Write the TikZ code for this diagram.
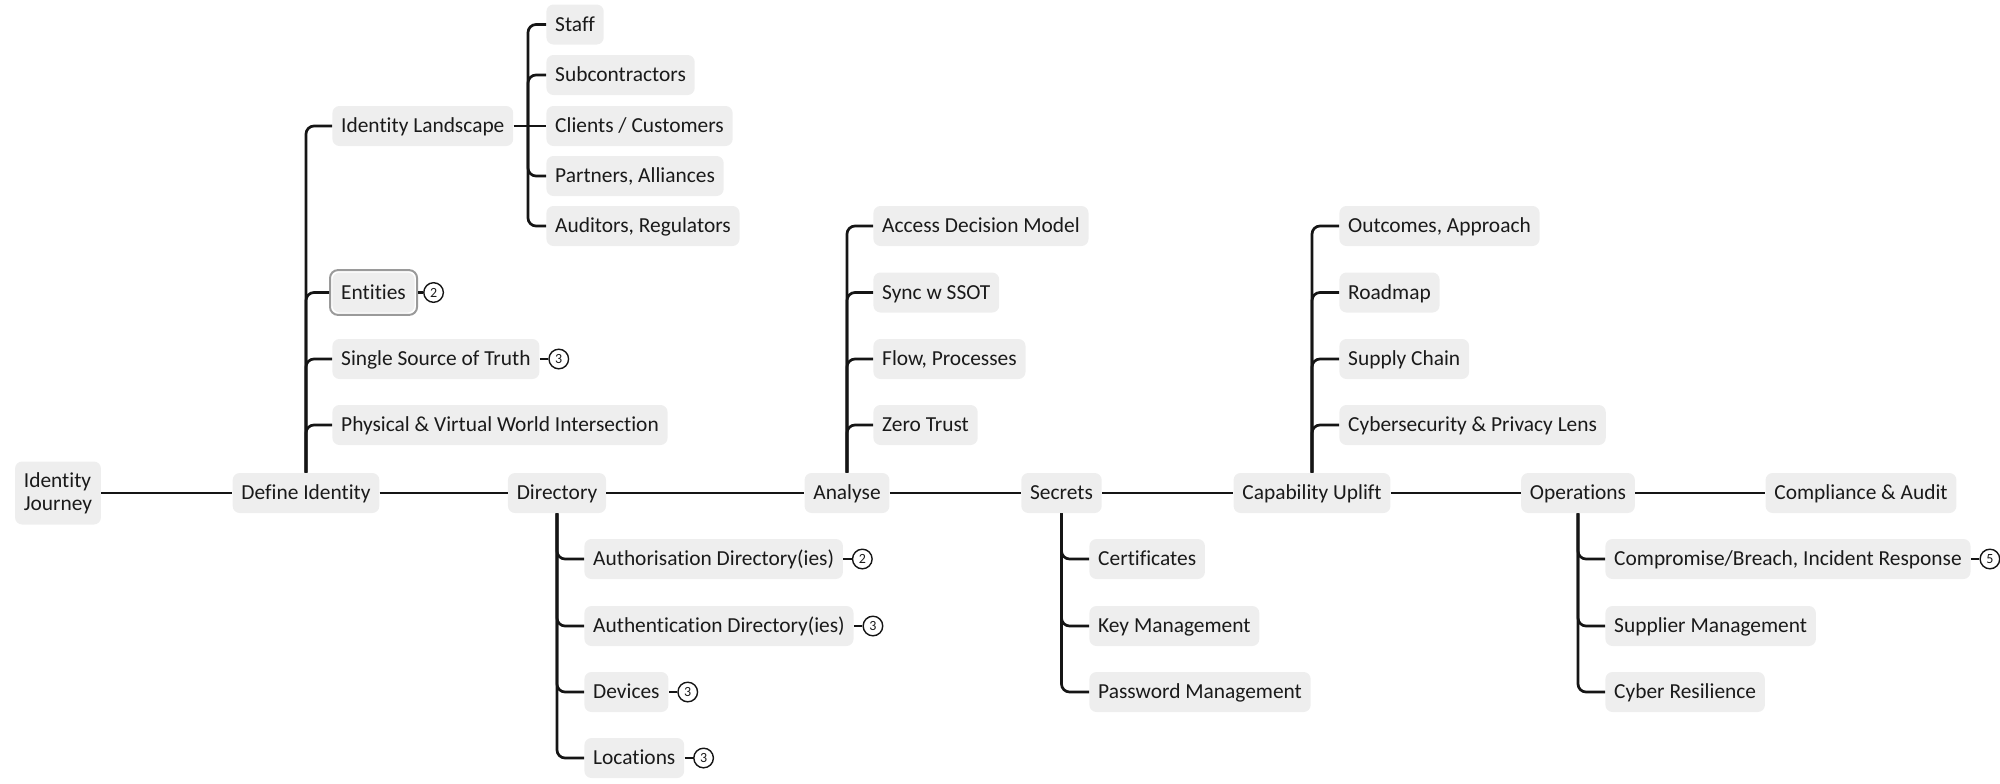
\documentclass[tikz,border=0pt]{standalone}
\usepackage{fontspec}
\setmainfont{Carlito}[Ligatures=NoCommon]
\usetikzlibrary{fit}
\definecolor{boxgray}{HTML}{EEEEEE}
\definecolor{lnk}{HTML}{151515}
\definecolor{txt}{HTML}{1A1A1A}
\definecolor{selgray}{HTML}{9A9A9A}
\begin{document}
\begin{tikzpicture}[x=0.5pt,y=-0.5pt,
  topicbase/.style={fill=boxgray, rounded corners=3.5pt, inner xsep=4.4pt, inner ysep=0pt,
    minimum height=20pt, text=txt, font=\fontsize{10.7}{11.6}\selectfont},
  topic/.style={topicbase, text height=7.2pt, text depth=0.3pt},
  link/.style={line width=1.35pt, draw=lnk},
  branch/.style={link, rounded corners=4pt},
  badge/.style={circle, draw=lnk, line width=0.7pt, fill=white, minimum size=9.8pt,
    inner sep=0pt, text=txt, font=\fontsize{7}{7}\selectfont},
]
\useasboundingbox (0,0) rectangle (2000,783);

% main row
\node[topicbase, align=left, minimum height=31.5pt] (IJ) at (58,493) {Identity\\Journey};
\node[topic] (DI)  at (306,493)  {Define Identity};
\node[topic] (Dir) at (557,493)  {Directory};
\node[topic] (An)  at (847,493)  {Analyse};
\node[topic] (Sec) at (1061.5,493) {Secrets};
\node[topic] (CU)  at (1312,493) {Capability Uplift};
\node[topic] (Ops) at (1578,493) {Operations};
\node[topic] (CA)  at (1861,493) {Compliance \& Audit};
\draw[link] (IJ) -- (DI);
\draw[link] (DI) -- (Dir);
\draw[link] (Dir) -- (An);
\draw[link] (An) -- (Sec);
\draw[link] (Sec) -- (CU);
\draw[link] (CU) -- (Ops);
\draw[link] (Ops) -- (CA);

% Define Identity children
\node[topic, anchor=west] (IL)   at (332,126)   {Identity Landscape};
\node[topic, anchor=west] (Ent)  at (332,292.5) {Entities};
\node[draw=selgray, line width=1pt, rounded corners=4pt, fit=(Ent), inner sep=1pt] (EntB) {};
\node[topic, anchor=west] (SSoT) at (332,359)   {Single Source of Truth};
\node[topic, anchor=west] (Phys) at (332,425)   {Physical \& Virtual World Intersection};
\foreach \c in {IL,EntB,SSoT,Phys} \draw[branch] (DI.north) |- (\c.west);

% Identity Landscape children
\node[topic, anchor=west] (Staff) at (546,24.5) {Staff};
\node[topic, anchor=west] (Sub)   at (546,75)   {Subcontractors};
\node[topic, anchor=west] (Cli)   at (546,126)  {Clients / Customers};
\node[topic, anchor=west] (Par)   at (546,176)  {Partners, Alliances};
\node[topic, anchor=west] (Aud)   at (546,226)  {Auditors, Regulators};
\coordinate (ILj) at (528,126);
\draw[link] (IL.east) -- (ILj);
\draw[link] (ILj) -- (Cli.west);
\foreach \c in {Staff,Sub,Par,Aud} \draw[branch] (ILj) |- (\c.west);

% Directory children
\node[topic, anchor=west] (AuthZ) at (584,559) {Authorisation Directory(ies)};
\node[topic, anchor=west] (AuthN) at (584,626) {Authentication Directory(ies)};
\node[topic, anchor=west] (Dev)   at (584,692) {Devices};
\node[topic, anchor=west] (Loc)   at (584,758) {Locations};
\foreach \c in {AuthZ,AuthN,Dev,Loc} \draw[branch] (Dir.south) |- (\c.west);

% Analyse children
\node[topic, anchor=west] (ADM)  at (873,226)   {Access Decision Model};
\node[topic, anchor=west] (Sync) at (873,292.5) {Sync w SSOT};
\node[topic, anchor=west] (Flow) at (873,359)   {Flow, Processes};
\node[topic, anchor=west] (ZT)   at (873,425)   {Zero Trust};
\foreach \c in {ADM,Sync,Flow,ZT} \draw[branch] (An.north) |- (\c.west);

% Secrets children
\node[topic, anchor=west] (Cert) at (1089,559) {Certificates};
\node[topic, anchor=west] (Key)  at (1089,626) {Key Management};
\node[topic, anchor=west] (Pwd)  at (1089,692) {Password Management};
\foreach \c in {Cert,Key,Pwd} \draw[branch] (Sec.south) |- (\c.west);

% Capability Uplift children
\node[topic, anchor=west] (Out)  at (1339,226)   {Outcomes, Approach};
\node[topic, anchor=west] (Road) at (1339,292.5) {Roadmap};
\node[topic, anchor=west] (SupC) at (1339,359)   {Supply Chain};
\node[topic, anchor=west] (CPL)  at (1339,425)   {Cybersecurity \& Privacy Lens};
\foreach \c in {Out,Road,SupC,CPL} \draw[branch] (CU.north) |- (\c.west);

% Operations children
\node[topic, anchor=west] (Comp) at (1605,559) {Compromise/Breach, Incident Response};
\node[topic, anchor=west] (SupM) at (1605,626) {Supplier Management};
\node[topic, anchor=west] (CR)   at (1605,692) {Cyber Resilience};
\foreach \c in {Comp,SupM,CR} \draw[branch] (Ops.south) |- (\c.west);

% badges
\node[badge] (bEnt)  at ([xshift=7.75pt]EntB.east) {2};
\node[badge] (bSSoT) at ([xshift=9.5pt]SSoT.east) {3};
\node[badge] (bAuthZ) at ([xshift=9.5pt]AuthZ.east) {2};
\node[badge] (bAuthN) at ([xshift=9.5pt]AuthN.east) {3};
\node[badge] (bDev)  at ([xshift=9.5pt]Dev.east) {3};
\node[badge] (bLoc)  at ([xshift=9.5pt]Loc.east) {3};
\node[badge] (bComp) at ([xshift=9.5pt]Comp.east) {5};
\foreach \b/\n in {bEnt/EntB,bSSoT/SSoT,bAuthZ/AuthZ,bAuthN/AuthN,bDev/Dev,bLoc/Loc,bComp/Comp}
  \draw[link] (\n.east) -- (\b.west);
\end{tikzpicture}
\end{document}
